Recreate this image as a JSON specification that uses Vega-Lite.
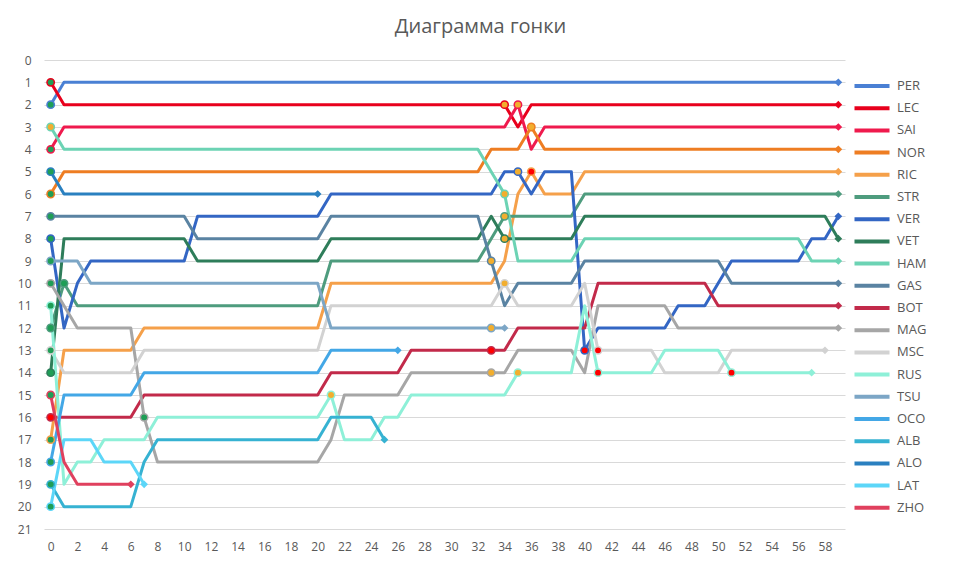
{
"$schema": "https://vega.github.io/schema/vega-lite/v6.json",
"width": 801, "height": 469,
"autosize": {"type": "none"},
"padding": {"left": 44, "top": 60, "right": 115, "bottom": 39},
"background": "white",
"title": {"text": "Диаграмма гонки", "fontSize": 20, "font": "Open Sans", "fontWeight": "normal", "color": "#595959", "anchor": "middle", "frame": "group", "dx": 36, "offset": 17},
"config": {"view": {"stroke": null}, "font": "Open Sans", "axis": {"labelOverlap": false}},
"datasets": {
"laps": [
{"d":"PER","lap":0,"pos":2},{"d":"PER","lap":1,"pos":1},{"d":"PER","lap":59,"pos":1},
{"d":"LEC","lap":0,"pos":1},{"d":"LEC","lap":1,"pos":2},{"d":"LEC","lap":34,"pos":2},{"d":"LEC","lap":35,"pos":3},{"d":"LEC","lap":36,"pos":2},{"d":"LEC","lap":59,"pos":2},
{"d":"SAI","lap":0,"pos":4},{"d":"SAI","lap":1,"pos":3},{"d":"SAI","lap":34,"pos":3},{"d":"SAI","lap":35,"pos":2},{"d":"SAI","lap":36,"pos":4},{"d":"SAI","lap":37,"pos":3},{"d":"SAI","lap":59,"pos":3},
{"d":"NOR","lap":0,"pos":6},{"d":"NOR","lap":1,"pos":5},{"d":"NOR","lap":32,"pos":5},{"d":"NOR","lap":33,"pos":4},{"d":"NOR","lap":35,"pos":4},{"d":"NOR","lap":36,"pos":3},{"d":"NOR","lap":37,"pos":4},{"d":"NOR","lap":59,"pos":4},
{"d":"RIC","lap":0,"pos":17},{"d":"RIC","lap":1,"pos":13},{"d":"RIC","lap":6,"pos":13},{"d":"RIC","lap":7,"pos":12},{"d":"RIC","lap":20,"pos":12},{"d":"RIC","lap":21,"pos":10},{"d":"RIC","lap":33,"pos":10},{"d":"RIC","lap":34,"pos":9},{"d":"RIC","lap":35,"pos":6},{"d":"RIC","lap":36,"pos":5},{"d":"RIC","lap":37,"pos":6},{"d":"RIC","lap":39,"pos":6},{"d":"RIC","lap":40,"pos":5},{"d":"RIC","lap":59,"pos":5},
{"d":"STR","lap":0,"pos":12},{"d":"STR","lap":1,"pos":10},{"d":"STR","lap":2,"pos":11},{"d":"STR","lap":20,"pos":11},{"d":"STR","lap":21,"pos":9},{"d":"STR","lap":32,"pos":9},{"d":"STR","lap":33,"pos":8},{"d":"STR","lap":34,"pos":7},{"d":"STR","lap":39,"pos":7},{"d":"STR","lap":40,"pos":6},{"d":"STR","lap":59,"pos":6},
{"d":"VER","lap":0,"pos":8},{"d":"VER","lap":1,"pos":12},{"d":"VER","lap":2,"pos":10},{"d":"VER","lap":3,"pos":9},{"d":"VER","lap":10,"pos":9},{"d":"VER","lap":11,"pos":7},{"d":"VER","lap":20,"pos":7},{"d":"VER","lap":21,"pos":6},{"d":"VER","lap":33,"pos":6},{"d":"VER","lap":34,"pos":5},{"d":"VER","lap":35,"pos":5},{"d":"VER","lap":36,"pos":6},{"d":"VER","lap":37,"pos":5},{"d":"VER","lap":39,"pos":5},{"d":"VER","lap":40,"pos":13},{"d":"VER","lap":41,"pos":12},{"d":"VER","lap":46,"pos":12},{"d":"VER","lap":47,"pos":11},{"d":"VER","lap":49,"pos":11},{"d":"VER","lap":50,"pos":10},{"d":"VER","lap":51,"pos":9},{"d":"VER","lap":56,"pos":9},{"d":"VER","lap":57,"pos":8},{"d":"VER","lap":58,"pos":8},{"d":"VER","lap":59,"pos":7},
{"d":"VET","lap":0,"pos":14},{"d":"VET","lap":1,"pos":8},{"d":"VET","lap":10,"pos":8},{"d":"VET","lap":11,"pos":9},{"d":"VET","lap":20,"pos":9},{"d":"VET","lap":21,"pos":8},{"d":"VET","lap":32,"pos":8},{"d":"VET","lap":33,"pos":7},{"d":"VET","lap":34,"pos":8},{"d":"VET","lap":39,"pos":8},{"d":"VET","lap":40,"pos":7},{"d":"VET","lap":58,"pos":7},{"d":"VET","lap":59,"pos":8},
{"d":"HAM","lap":0,"pos":3},{"d":"HAM","lap":1,"pos":4},{"d":"HAM","lap":32,"pos":4},{"d":"HAM","lap":33,"pos":5},{"d":"HAM","lap":34,"pos":6},{"d":"HAM","lap":35,"pos":9},{"d":"HAM","lap":39,"pos":9},{"d":"HAM","lap":40,"pos":8},{"d":"HAM","lap":56,"pos":8},{"d":"HAM","lap":57,"pos":9},{"d":"HAM","lap":59,"pos":9},
{"d":"GAS","lap":0,"pos":7},{"d":"GAS","lap":10,"pos":7},{"d":"GAS","lap":11,"pos":8},{"d":"GAS","lap":20,"pos":8},{"d":"GAS","lap":21,"pos":7},{"d":"GAS","lap":32,"pos":7},{"d":"GAS","lap":33,"pos":9},{"d":"GAS","lap":34,"pos":11},{"d":"GAS","lap":35,"pos":10},{"d":"GAS","lap":39,"pos":10},{"d":"GAS","lap":40,"pos":9},{"d":"GAS","lap":50,"pos":9},{"d":"GAS","lap":51,"pos":10},{"d":"GAS","lap":59,"pos":10},
{"d":"BOT","lap":0,"pos":16},{"d":"BOT","lap":6,"pos":16},{"d":"BOT","lap":7,"pos":15},{"d":"BOT","lap":20,"pos":15},{"d":"BOT","lap":21,"pos":14},{"d":"BOT","lap":26,"pos":14},{"d":"BOT","lap":27,"pos":13},{"d":"BOT","lap":34,"pos":13},{"d":"BOT","lap":35,"pos":12},{"d":"BOT","lap":40,"pos":12},{"d":"BOT","lap":41,"pos":10},{"d":"BOT","lap":49,"pos":10},{"d":"BOT","lap":50,"pos":11},{"d":"BOT","lap":59,"pos":11},
{"d":"MAG","lap":0,"pos":10},{"d":"MAG","lap":1,"pos":11},{"d":"MAG","lap":2,"pos":12},{"d":"MAG","lap":6,"pos":12},{"d":"MAG","lap":7,"pos":16},{"d":"MAG","lap":8,"pos":18},{"d":"MAG","lap":20,"pos":18},{"d":"MAG","lap":21,"pos":17},{"d":"MAG","lap":22,"pos":15},{"d":"MAG","lap":26,"pos":15},{"d":"MAG","lap":27,"pos":14},{"d":"MAG","lap":34,"pos":14},{"d":"MAG","lap":35,"pos":13},{"d":"MAG","lap":39,"pos":13},{"d":"MAG","lap":40,"pos":14},{"d":"MAG","lap":41,"pos":11},{"d":"MAG","lap":46,"pos":11},{"d":"MAG","lap":47,"pos":12},{"d":"MAG","lap":59,"pos":12},
{"d":"MSC","lap":0,"pos":13},{"d":"MSC","lap":1,"pos":14},{"d":"MSC","lap":6,"pos":14},{"d":"MSC","lap":7,"pos":13},{"d":"MSC","lap":20,"pos":13},{"d":"MSC","lap":21,"pos":11},{"d":"MSC","lap":33,"pos":11},{"d":"MSC","lap":34,"pos":10},{"d":"MSC","lap":35,"pos":11},{"d":"MSC","lap":39,"pos":11},{"d":"MSC","lap":40,"pos":10},{"d":"MSC","lap":41,"pos":13},{"d":"MSC","lap":45,"pos":13},{"d":"MSC","lap":46,"pos":14},{"d":"MSC","lap":50,"pos":14},{"d":"MSC","lap":51,"pos":13},{"d":"MSC","lap":58,"pos":13},
{"d":"RUS","lap":0,"pos":11},{"d":"RUS","lap":1,"pos":19},{"d":"RUS","lap":2,"pos":18},{"d":"RUS","lap":3,"pos":18},{"d":"RUS","lap":4,"pos":17},{"d":"RUS","lap":7,"pos":17},{"d":"RUS","lap":8,"pos":16},{"d":"RUS","lap":20,"pos":16},{"d":"RUS","lap":21,"pos":15},{"d":"RUS","lap":22,"pos":17},{"d":"RUS","lap":24,"pos":17},{"d":"RUS","lap":25,"pos":16},{"d":"RUS","lap":26,"pos":16},{"d":"RUS","lap":27,"pos":15},{"d":"RUS","lap":34,"pos":15},{"d":"RUS","lap":35,"pos":14},{"d":"RUS","lap":39,"pos":14},{"d":"RUS","lap":40,"pos":11},{"d":"RUS","lap":41,"pos":14},{"d":"RUS","lap":45,"pos":14},{"d":"RUS","lap":46,"pos":13},{"d":"RUS","lap":50,"pos":13},{"d":"RUS","lap":51,"pos":14},{"d":"RUS","lap":57,"pos":14},
{"d":"TSU","lap":0,"pos":9},{"d":"TSU","lap":2,"pos":9},{"d":"TSU","lap":3,"pos":10},{"d":"TSU","lap":20,"pos":10},{"d":"TSU","lap":21,"pos":12},{"d":"TSU","lap":34,"pos":12},
{"d":"OCO","lap":0,"pos":18},{"d":"OCO","lap":1,"pos":15},{"d":"OCO","lap":6,"pos":15},{"d":"OCO","lap":7,"pos":14},{"d":"OCO","lap":20,"pos":14},{"d":"OCO","lap":21,"pos":13},{"d":"OCO","lap":26,"pos":13},
{"d":"ALB","lap":0,"pos":19},{"d":"ALB","lap":1,"pos":20},{"d":"ALB","lap":6,"pos":20},{"d":"ALB","lap":7,"pos":18},{"d":"ALB","lap":8,"pos":17},{"d":"ALB","lap":20,"pos":17},{"d":"ALB","lap":21,"pos":16},{"d":"ALB","lap":24,"pos":16},{"d":"ALB","lap":25,"pos":17},
{"d":"ALO","lap":0,"pos":5},{"d":"ALO","lap":1,"pos":6},{"d":"ALO","lap":20,"pos":6},
{"d":"LAT","lap":0,"pos":20},{"d":"LAT","lap":1,"pos":17},{"d":"LAT","lap":3,"pos":17},{"d":"LAT","lap":4,"pos":18},{"d":"LAT","lap":6,"pos":18},{"d":"LAT","lap":7,"pos":19},
{"d":"ZHO","lap":0,"pos":15},{"d":"ZHO","lap":1,"pos":18},{"d":"ZHO","lap":2,"pos":19},{"d":"ZHO","lap":6,"pos":19}
],
"marks": [
{"d":"LEC","lap":0,"pos":1,"tyre":"I"},{"d":"PER","lap":0,"pos":2,"tyre":"I"},{"d":"HAM","lap":0,"pos":3,"tyre":"M"},{"d":"SAI","lap":0,"pos":4,"tyre":"I"},{"d":"ALO","lap":0,"pos":5,"tyre":"I"},{"d":"NOR","lap":0,"pos":6,"tyre":"I"},{"d":"GAS","lap":0,"pos":7,"tyre":"I"},{"d":"VER","lap":0,"pos":8,"tyre":"I"},{"d":"TSU","lap":0,"pos":9,"tyre":"I"},{"d":"MAG","lap":0,"pos":10,"tyre":"I"},{"d":"RUS","lap":0,"pos":11,"tyre":"I"},{"d":"STR","lap":0,"pos":12,"tyre":"I"},{"d":"MSC","lap":0,"pos":13,"tyre":"I"},{"d":"VET","lap":0,"pos":14,"tyre":"I"},{"d":"ZHO","lap":0,"pos":15,"tyre":"I"},{"d":"BOT","lap":0,"pos":16,"tyre":"S"},{"d":"RIC","lap":0,"pos":17,"tyre":"I"},{"d":"OCO","lap":0,"pos":18,"tyre":"I"},{"d":"ALB","lap":0,"pos":19,"tyre":"I"},{"d":"LAT","lap":0,"pos":20,"tyre":"I"},
{"d":"STR","lap":1,"pos":10,"tyre":"I"},{"d":"MAG","lap":7,"pos":16,"tyre":"I"},
{"d":"RUS","lap":21,"pos":15,"tyre":"M"},
{"d":"GAS","lap":33,"pos":9,"tyre":"M"},{"d":"TSU","lap":33,"pos":12,"tyre":"M"},{"d":"BOT","lap":33,"pos":13,"tyre":"S"},{"d":"MAG","lap":33,"pos":14,"tyre":"M"},
{"d":"LEC","lap":34,"pos":2,"tyre":"M"},{"d":"HAM","lap":34,"pos":6,"tyre":"M"},{"d":"STR","lap":34,"pos":7,"tyre":"M"},{"d":"VET","lap":34,"pos":8,"tyre":"M"},{"d":"MSC","lap":34,"pos":10,"tyre":"M"},
{"d":"SAI","lap":35,"pos":2,"tyre":"M"},{"d":"VER","lap":35,"pos":5,"tyre":"M"},{"d":"RUS","lap":35,"pos":14,"tyre":"M"},
{"d":"NOR","lap":36,"pos":3,"tyre":"M"},{"d":"RIC","lap":36,"pos":5,"tyre":"S"},
{"d":"VER","lap":40,"pos":13,"tyre":"S"},{"d":"MSC","lap":41,"pos":13,"tyre":"S"},{"d":"RUS","lap":41,"pos":14,"tyre":"S"},{"d":"RUS","lap":51,"pos":14,"tyre":"S"}
]
},
"encoding": {
  "x": {"field": "lap", "type": "quantitative", "scale": {"domain": [-0.5, 59.5], "nice": false, "zero": false},
        "axis": {"title": null, "values": [0,2,4,6,8,10,12,14,16,18,20,22,24,26,28,30,32,34,36,38,40,42,44,46,48,50,52,54,56,58], "labelOverlap": false, "grid": false, "domain": false, "ticks": false, "labelPadding": 12, "labelFontSize": 12, "labelColor": "#595959", "labelFont": "Open Sans"}},
  "y": {"field": "pos", "type": "quantitative", "scale": {"domain": [0, 21], "reverse": true, "nice": false, "zero": false},
        "axis": {"title": null, "values": [0,1,2,3,4,5,6,7,8,9,10,11,12,13,14,15,16,17,18,19,20,21], "labelOverlap": false, "grid": true, "gridColor": "#d9d9d9", "gridWidth": 1, "domain": false, "ticks": false, "labelPadding": 13, "labelFontSize": 12, "labelColor": "#595959", "labelFont": "Open Sans"}}
},
"layer": [
{"data": {"name": "laps"},
 "mark": {"type": "line", "strokeWidth": 3, "strokeJoin": "round", "strokeCap": "round"},
 "encoding": {
  "color": {"field": "d", "type": "nominal",
    "scale": {"domain": ["PER","LEC","SAI","NOR","RIC","STR","VER","VET","HAM","GAS","BOT","MAG","MSC","RUS","TSU","OCO","ALB","ALO","LAT","ZHO"],
              "range": ["#4a80d4","#e8001c","#ef1a4d","#ee7d22","#f5a04a","#4e9c7e","#3366c4","#2e7d5a","#6cd3b4","#5a83a2","#c22a4a","#a6a6a6","#d2d2d2","#8ef0d8","#7ca6c6","#43a7e6","#36b2d2","#2a80c0","#5cd6f8","#e0405e"]},
    "legend": {"orient": "none", "legendX": 819, "legendY": 17, "direction": "vertical", "title": null, "symbolType": "M-2.5,0H2.5", "symbolSize": 196, "symbolStrokeWidth": 4, "labelFontSize": 13, "labelColor": "#595959", "labelFont": "Open Sans", "labelOffset": 16, "rowPadding": 5.2}}
 }},
{"data": {"name": "laps"},
 "transform": [{"joinaggregate": [{"op": "max", "field": "lap", "as": "last"}], "groupby": ["d"]}, {"filter": "datum.lap === datum.last"}],
 "mark": {"type": "point", "shape": "diamond", "filled": true, "size": 60, "opacity": 1},
 "encoding": {
  "color": {"field": "d", "type": "nominal", "legend": null}
 }},
{"data": {"name": "marks"},
 "mark": {"type": "point", "shape": "circle", "filled": true, "size": 55, "strokeWidth": 1.5, "opacity": 1},
 "encoding": {
  "fill": {"field": "tyre", "type": "nominal", "scale": {"domain": ["I","M","S"], "range": ["#1f9e56","#f2ae2e","#ff0000"]}, "legend": null},
  "stroke": {"field": "d", "type": "nominal",
    "scale": {"domain": ["PER","LEC","SAI","NOR","RIC","STR","VER","VET","HAM","GAS","BOT","MAG","MSC","RUS","TSU","OCO","ALB","ALO","LAT","ZHO"],
              "range": ["#4a80d4","#e8001c","#ef1a4d","#ee7d22","#f5a04a","#4e9c7e","#3366c4","#2e7d5a","#6cd3b4","#5a83a2","#c22a4a","#a6a6a6","#d2d2d2","#8ef0d8","#7ca6c6","#43a7e6","#36b2d2","#2a80c0","#5cd6f8","#e0405e"]},
    "legend": null}
 }}
]
}
